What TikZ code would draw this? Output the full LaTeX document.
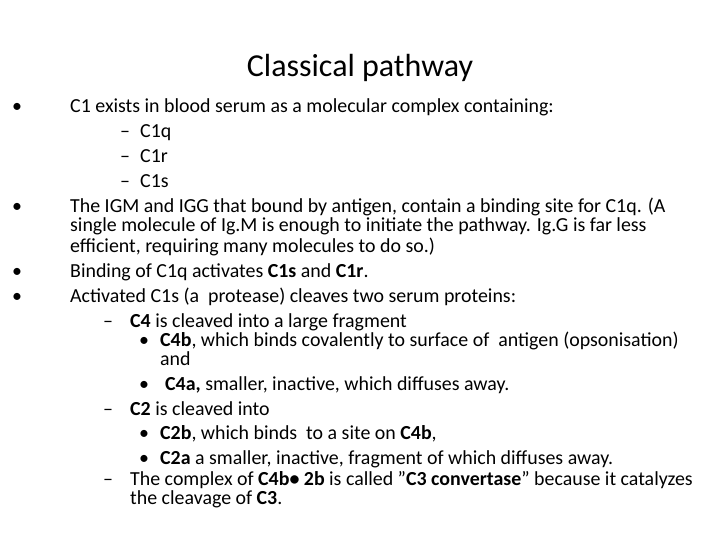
\documentclass[tikz,border=0pt]{standalone}
\usepackage{fontspec}
\setmainfont{Carlito}
\begin{document}
\begin{tikzpicture}[x=1pt,y=-1pt,
  txt/.style={anchor=base west,inner sep=0pt,font=\fontsize{19.9}{22}\selectfont},
  ttl/.style={anchor=base,inner sep=0pt,font=\fontsize{32}{36}\selectfont}]
\useasboundingbox (0,0) rectangle (720,540);
\node[ttl] (t) at (360,77) {Classical pathway};
\node[txt] (b1) at (12,113) {•};
\node[txt] (l1) at (70,113) {C1 exists in blood serum as a molecular complex containing:};
\node[txt] (d1) at (120,138) {–}; \node[txt] (l2) at (140,138) {C1q};
\node[txt] (d2) at (120,163) {–}; \node[txt] (l3) at (140,163) {C1r};
\node[txt] (d3) at (120,188) {–}; \node[txt] (l4) at (140,188) {C1s};
\node[txt] (b2) at (12,213) {•};
\node[txt] (l5) at (70,213) {The IGM and IGG that bound by antigen, contain a binding site for C1q. (A};
\node[txt] (l6) at (70,232) {single molecule of Ig.M is enough to initiate the pathway. Ig.G is far less};
\node[txt] (l7) at (70,252) {efficient, requiring many molecules to do so.)};
\node[txt] (b3) at (12,277) {•};
\node[txt] (l8) at (70,277) {Binding of C1q activates \textbf{C1s} and \textbf{C1r}.};
\node[txt] (b4) at (12,302) {•};
\node[txt] (l9) at (70,302) {Activated C1s (a\ \ protease) cleaves two serum proteins:};
\node[txt] (d4) at (103,327) {–}; \node[txt] (l10) at (130,327) {\textbf{C4} is cleaved into a large fragment};
\node[txt] (b5) at (139,346) {•}; \node[txt] (l11) at (160,346) {\textbf{C4b}, which binds covalently to surface of\ \ antigen (opsonisation)};
\node[txt] (l12) at (160,365) {and};
\node[txt] (b6) at (139,390) {•}; \node[txt] (l13) at (165,390) {\textbf{C4a,} smaller, inactive, which diffuses away.};
\node[txt] (d5) at (103,415) {–}; \node[txt] (l14) at (130,415) {\textbf{C2} is cleaved into};
\node[txt] (b7) at (139,439) {•}; \node[txt] (l15) at (160,439) {\textbf{C2b}, which binds\ \ to a site on \textbf{C4b},};
\node[txt] (b8) at (139,464) {•}; \node[txt] (l16) at (160,464) {\textbf{C2a} a smaller, inactive, fragment of which diffuses away.};
\node[txt] (d6) at (103,485) {–}; \node[txt] (l17) at (130,485) {The complex of \textbf{C4b• 2b} is called {\char"22}\textbf{C3 convertase}{\char"22} because it catalyzes};
\node[txt] (l18) at (130,504) {the cleavage of \textbf{C3}.};
\end{tikzpicture}
\end{document}
